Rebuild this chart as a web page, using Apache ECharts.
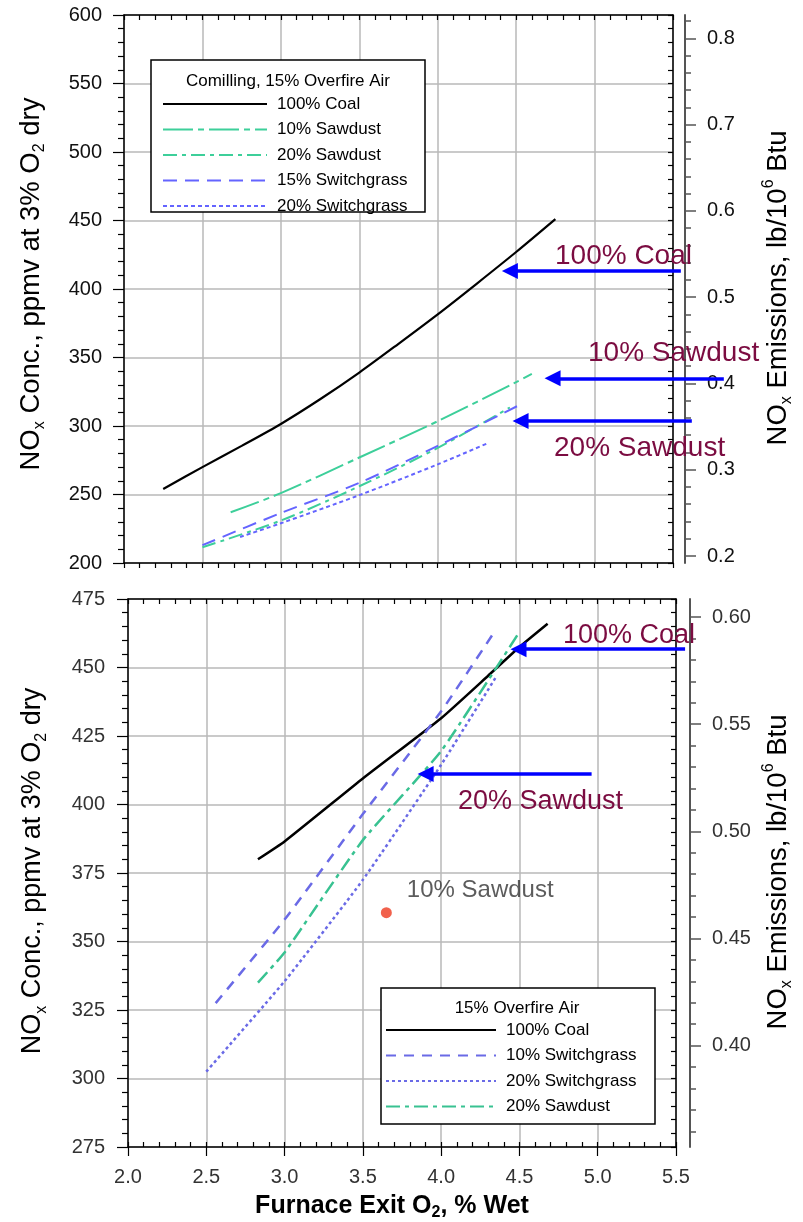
<!DOCTYPE html>
<html><head><meta charset="utf-8">
<script src="https://cdn.jsdelivr.net/npm/echarts@6/dist/echarts.min.js"></script>
<style>html,body{margin:0;padding:0;background:#fff}#c{width:803px;height:1222px}</style>
</head><body><div id="c"></div>
<script>
// ---------- DATA ----------
// Top panel: Comilling, 15% Overfire Air  [O2 %wet, NOx ppmv]
const topCoal = [[2.25,254],[2.5,270],[2.75,285.5],[3.0,301.5],[3.25,319.5],[3.5,339],[3.75,360],[4.0,381.5],[4.25,404],[4.5,427],[4.75,451]];
const topSaw10 = [[2.68,237],[3.0,251],[3.5,277],[4.0,303.5],[4.5,332],[4.6,338]];
const topSaw20 = [[2.5,211.5],[3.0,231],[3.5,256],[4.0,284],[4.46,313.5]];
const topSwg15 = [[2.5,213],[3.0,236.5],[3.5,258.5],[4.0,285.5],[4.55,317]];
const topSwg20 = [[2.74,219],[3.0,229],[3.5,249.5],[4.0,272],[4.31,287]];
// Bottom panel: 15% Overfire Air
const botCoal = [[2.83,380],[3.0,386.5],[3.5,409.5],[4.0,431.5],[4.3,447],[4.5,457.5],[4.68,466]];
const botSwg10 = [[2.56,327.5],[3.0,358],[3.5,396.5],[4.0,434],[4.34,463]];
const botSwg20 = [[2.5,302.5],[3.0,335.5],[3.5,372.5],[4.0,414.5],[4.35,446.5]];
const botSaw20 = [[2.83,335],[3.0,346],[3.5,387],[4.0,419.5],[4.5,463]];
const botSaw10Point = [{name:'10% Sawdust', value:[3.65,360.5]}];
// Arrows: [x start, x tip, y] in data units
const topArrows = [[5.55,4.46,413.1],[5.824,4.732,334.8],[5.62,4.528,303.6]];
const botArrows = [[5.558,4.494,456.7],[4.961,3.901,411.1]];
// Axis ticks
const xTicks = {min:2.0, max:5.5, step:0.5};
const topPpm = {min:200, max:600, step:50};
const botPpm = {min:275, max:475, step:25};
const topLb = {min:0.1919, max:0.8271, ticks:[0.2,0.3,0.4,0.5,0.6,0.7,0.8]};
const botLb = {min:0.3527, max:0.6084, ticks:[0.40,0.45,0.50,0.55,0.60]};
const topLegendNames = ['100% Coal','10% Sawdust','20% Sawdust','15% Switchgrass','20% Switchgrass'];
const botLegendNames = ['100% Coal ','10% Switchgrass','20% Switchgrass ','20% Sawdust '];

// ---------- STYLE ----------
const F = 'Liberation Sans, Arial, sans-serif';
const GRID = '#b8b8b8';
const GREEN = '#3dcf9a', BLUE = '#6464ff', GREEN2 = '#38c291', BLUE2 = '#6a6ae6';
const MAROON = '#7b0c41';

function frameX(grid, pos, inside, len, extra) {
  return Object.assign({
    gridIndex: grid, type: 'value', min: xTicks.min, max: xTicks.max, interval: xTicks.step, position: pos,
    axisLine: {show: true, onZero: false, lineStyle: {color: '#000', width: 1.5}},
    axisTick: {show: true, inside: inside, length: len, lineStyle: {color: '#000', width: 1.2}},
    minorTick: {show: true, splitNumber: 5, length: 5, lineStyle: {color: '#000', width: 1.2}},
    axisLabel: {show: false}, splitLine: {show: false}
  }, extra || {});
}
function ppmAxis(grid, r, pos, inside, extra) {
  return Object.assign({
    gridIndex: grid, type: 'value', min: r.min, max: r.max, interval: r.step, position: pos,
    axisLine: {show: true, onZero: false, lineStyle: {color: '#000', width: 1.5}},
    axisTick: {show: true, inside: inside, length: inside ? 5 : 11, lineStyle: {color: '#000', width: 1.2}},
    minorTick: {show: true, splitNumber: 5, length: inside ? 5 : 6, lineStyle: {color: '#000', width: 1.2}},
    axisLabel: {show: false}, splitLine: {show: false}
  }, extra || {});
}
function lbAxis(grid, r, off, digits) {
  return {
    gridIndex: grid, type: 'value', min: r.min, max: r.max, splitNumber: grid === 0 ? 6 : 5,
    position: 'right', offset: off,
    axisLine: {show: true, onZero: false, lineStyle: {color: '#555', width: 2}},
    axisTick: {show: true, length: 11, customValues: r.ticks, lineStyle: {color: '#555', width: 1.5}},
    minorTick: {show: true, splitNumber: 5, length: 6, lineStyle: {color: '#555', width: 1.5}},
    axisLabel: {show: true, customValues: r.ticks, margin: 22, fontSize: 20, fontFamily: F,
      color: grid === 0 ? '#111' : '#333', formatter: v => Number(v).toFixed(digits)},
    splitLine: {show: false}
  };
}
function lineS(name, data, xi, yi, color, width, type, smooth) {
  return {name, type: 'line', xAxisIndex: xi, yAxisIndex: yi, data, symbol: 'none', showSymbol: false,
    smooth: smooth, lineStyle: {color, width, type}, itemStyle: {color}, z: 3, silent: true};
}
function arrowS(arr, xi, yi) {
  return {type: 'lines', coordinateSystem: 'cartesian2d', xAxisIndex: xi, yAxisIndex: yi, clip: false,
    symbol: ['none', 'triangle'], symbolSize: 16, z: 6, silent: true,
    lineStyle: {color: '#0000ff', width: 3.5, opacity: 1, curveness: 0},
    itemStyle: {color: '#0000ff'},
    data: arr.map(a => ({coords: [[a[0], a[2]], [a[1], a[2]]]}))};
}
const richTitle = (fs) => ({
  a: {fontSize: fs, fontFamily: F, color: '#000', lineHeight: 34, verticalAlign: 'middle'},
  s: {fontSize: 16, fontFamily: F, color: '#000', lineHeight: 16, verticalAlign: 'bottom'},
  p: {fontSize: 16, fontFamily: F, color: '#000', lineHeight: 16, verticalAlign: 'top'}
});
const leftTitle = '{a|NO}{s|x}{a| Conc., ppmv at 3% O}{s|2}{a| dry}';
const rightTitle = '{a|NO}{s|x}{a| Emissions, lb/10}{p|6}{a| Btu}';
function vTitle(x, y, text, fs) {
  return {type: 'text', x, y, rotation: Math.PI / 2, z: 10,
    style: {text, rich: richTitle(fs), align: 'center', verticalAlign: 'middle', fontSize: fs, fontFamily: F}};
}
function note(x, y, text, fs) {
  return {type: 'text', x, y, z: 10,
    style: {text, fill: MAROON, fontSize: fs, fontFamily: F, align: 'left', verticalAlign: 'middle'}};
}
function legendCfg(names, left, top, w) {
  return {data: names, orient: 'vertical', left, top, itemWidth: w, itemHeight: 14, itemGap: 5.5,
    selectedMode: false, z: 8, padding: 0,
    itemStyle: {opacity: 0, borderWidth: 0},
    formatter: n => '{t|' + n.trim() + '}',
    textStyle: {fontSize: 17, fontFamily: F, color: '#000', lineHeight: 20,
      rich: {t: {fontSize: 17, fontFamily: F, color: '#000', lineHeight: 20, padding: [0, 0, 0, 5]}}}};
}

const chart = echarts.init(document.getElementById('c'), null, {renderer: 'canvas'});
chart.setOption({
  animation: false,
  backgroundColor: '#fff',
  textStyle: {fontFamily: F},
  grid: [
    {left: 124, top: 15, width: 549, height: 548},
    {left: 128, top: 599, width: 548, height: 548}
  ],
  xAxis: [
    frameX(0, 'bottom', false, 5, {splitLine: {show: true, lineStyle: {color: GRID, width: 1.5}}}),
    frameX(0, 'top', true, 5),
    frameX(1, 'bottom', false, 9, {
      minorTick: {show: false},
      axisLabel: {show: true, margin: 20, fontSize: 20, fontFamily: F, color: '#333', formatter: v => v.toFixed(1)},
      splitLine: {show: true, lineStyle: {color: GRID, width: 1.5}}}),
    frameX(1, 'top', true, 5),
    frameX(1, 'bottom', true, 5, {axisLine: {show: false}})
  ],
  yAxis: [
    ppmAxis(0, topPpm, 'left', false, {
      axisLabel: {show: true, margin: 22, fontSize: 20, fontFamily: F, color: '#111'},
      splitLine: {show: true, lineStyle: {color: GRID, width: 1.5}}}),
    ppmAxis(0, topPpm, 'right', true),
    lbAxis(0, topLb, 12, 1),
    ppmAxis(1, botPpm, 'left', false, {
      axisLabel: {show: true, margin: 23, fontSize: 20, fontFamily: F, color: '#333'},
      splitLine: {show: true, lineStyle: {color: GRID, width: 1.5}}}),
    ppmAxis(1, botPpm, 'right', true),
    lbAxis(1, botLb, 14, 2)
  ],
  legend: [
    legendCfg(topLegendNames, 162, 94, 104),
    legendCfg(botLegendNames, 385, 1020, 110)
  ],
  series: [
    lineS('100% Coal', topCoal, 0, 0, '#000', 2.2, 'solid', 0.3),
    lineS('10% Sawdust', topSaw10, 0, 0, GREEN, 2, [30, 5, 6, 5], 0.3),
    lineS('20% Sawdust', topSaw20, 0, 0, GREEN, 2, [14, 5, 4, 5], 0.3),
    lineS('15% Switchgrass', topSwg15, 0, 0, BLUE, 2, [14, 8], 0.3),
    lineS('20% Switchgrass', topSwg20, 0, 0, BLUE, 2, [4, 3], 0.3),
    lineS('100% Coal ', botCoal, 2, 3, '#000', 2.5, 'solid', 0.15),
    lineS('10% Switchgrass', botSwg10, 2, 3, BLUE2, 2.5, [10, 8], 0.15),
    lineS('20% Switchgrass ', botSwg20, 2, 3, BLUE2, 2.5, [3, 3], 0.15),
    lineS('20% Sawdust ', botSaw20, 2, 3, GREEN2, 2.5, [14, 5, 4, 5], 0.15),
    {type: 'scatter', xAxisIndex: 2, yAxisIndex: 3, data: botSaw10Point, symbolSize: 11, z: 5, silent: true,
      itemStyle: {color: '#ee3a1f'},
      label: {show: true, position: 'right', distance: 15, offset: [0, -22], formatter: '{b}',
        fontSize: 24, fontFamily: F, color: '#333'}},
    arrowS(topArrows, 0, 0),
    arrowS(botArrows, 2, 3)
  ],
  graphic: [
    vTitle(31, 284, leftTitle, 27.5),
    vTitle(778, 288, rightTitle, 27.5),
    vTitle(33, 871, leftTitle, 27),
    vTitle(778, 872, rightTitle, 27.5),
    {type: 'text', x: 392, y: 1206, z: 10, style: {
      text: '{a|Furnace Exit O}{s|2}{a|, % Wet}', align: 'center', verticalAlign: 'middle',
      rich: {a: {fontSize: 25, fontWeight: 'bold', fontFamily: F, color: '#000', lineHeight: 30, verticalAlign: 'middle'},
             s: {fontSize: 16, fontWeight: 'bold', fontFamily: F, color: '#000', lineHeight: 15, verticalAlign: 'bottom'}}}},
    {type: 'rect', z: 7, shape: {x: 151, y: 60, width: 274, height: 152},
      style: {fill: '#fff', stroke: '#000', lineWidth: 1.5}},
    {type: 'text', x: 288, y: 81, z: 9, style: {text: 'Comilling, 15% Overfire Air', fontSize: 17, fontFamily: F,
      fill: '#000', align: 'center', verticalAlign: 'middle'}},
    {type: 'rect', z: 7, shape: {x: 381, y: 988, width: 274, height: 136},
      style: {fill: '#fff', stroke: '#000', lineWidth: 1.5}},
    {type: 'text', x: 517, y: 1008, z: 9, style: {text: '15% Overfire Air', fontSize: 17, fontFamily: F,
      fill: '#000', align: 'center', verticalAlign: 'middle'}},
    note(555, 256, '100% Coal', 28),
    note(588, 353, '10% Sawdust', 28),
    note(554, 448, '20% Sawdust', 28),
    note(563, 636, '100% Coal', 27),
    note(458, 802, '20% Sawdust', 27)
  ]
});
</script></body></html>
